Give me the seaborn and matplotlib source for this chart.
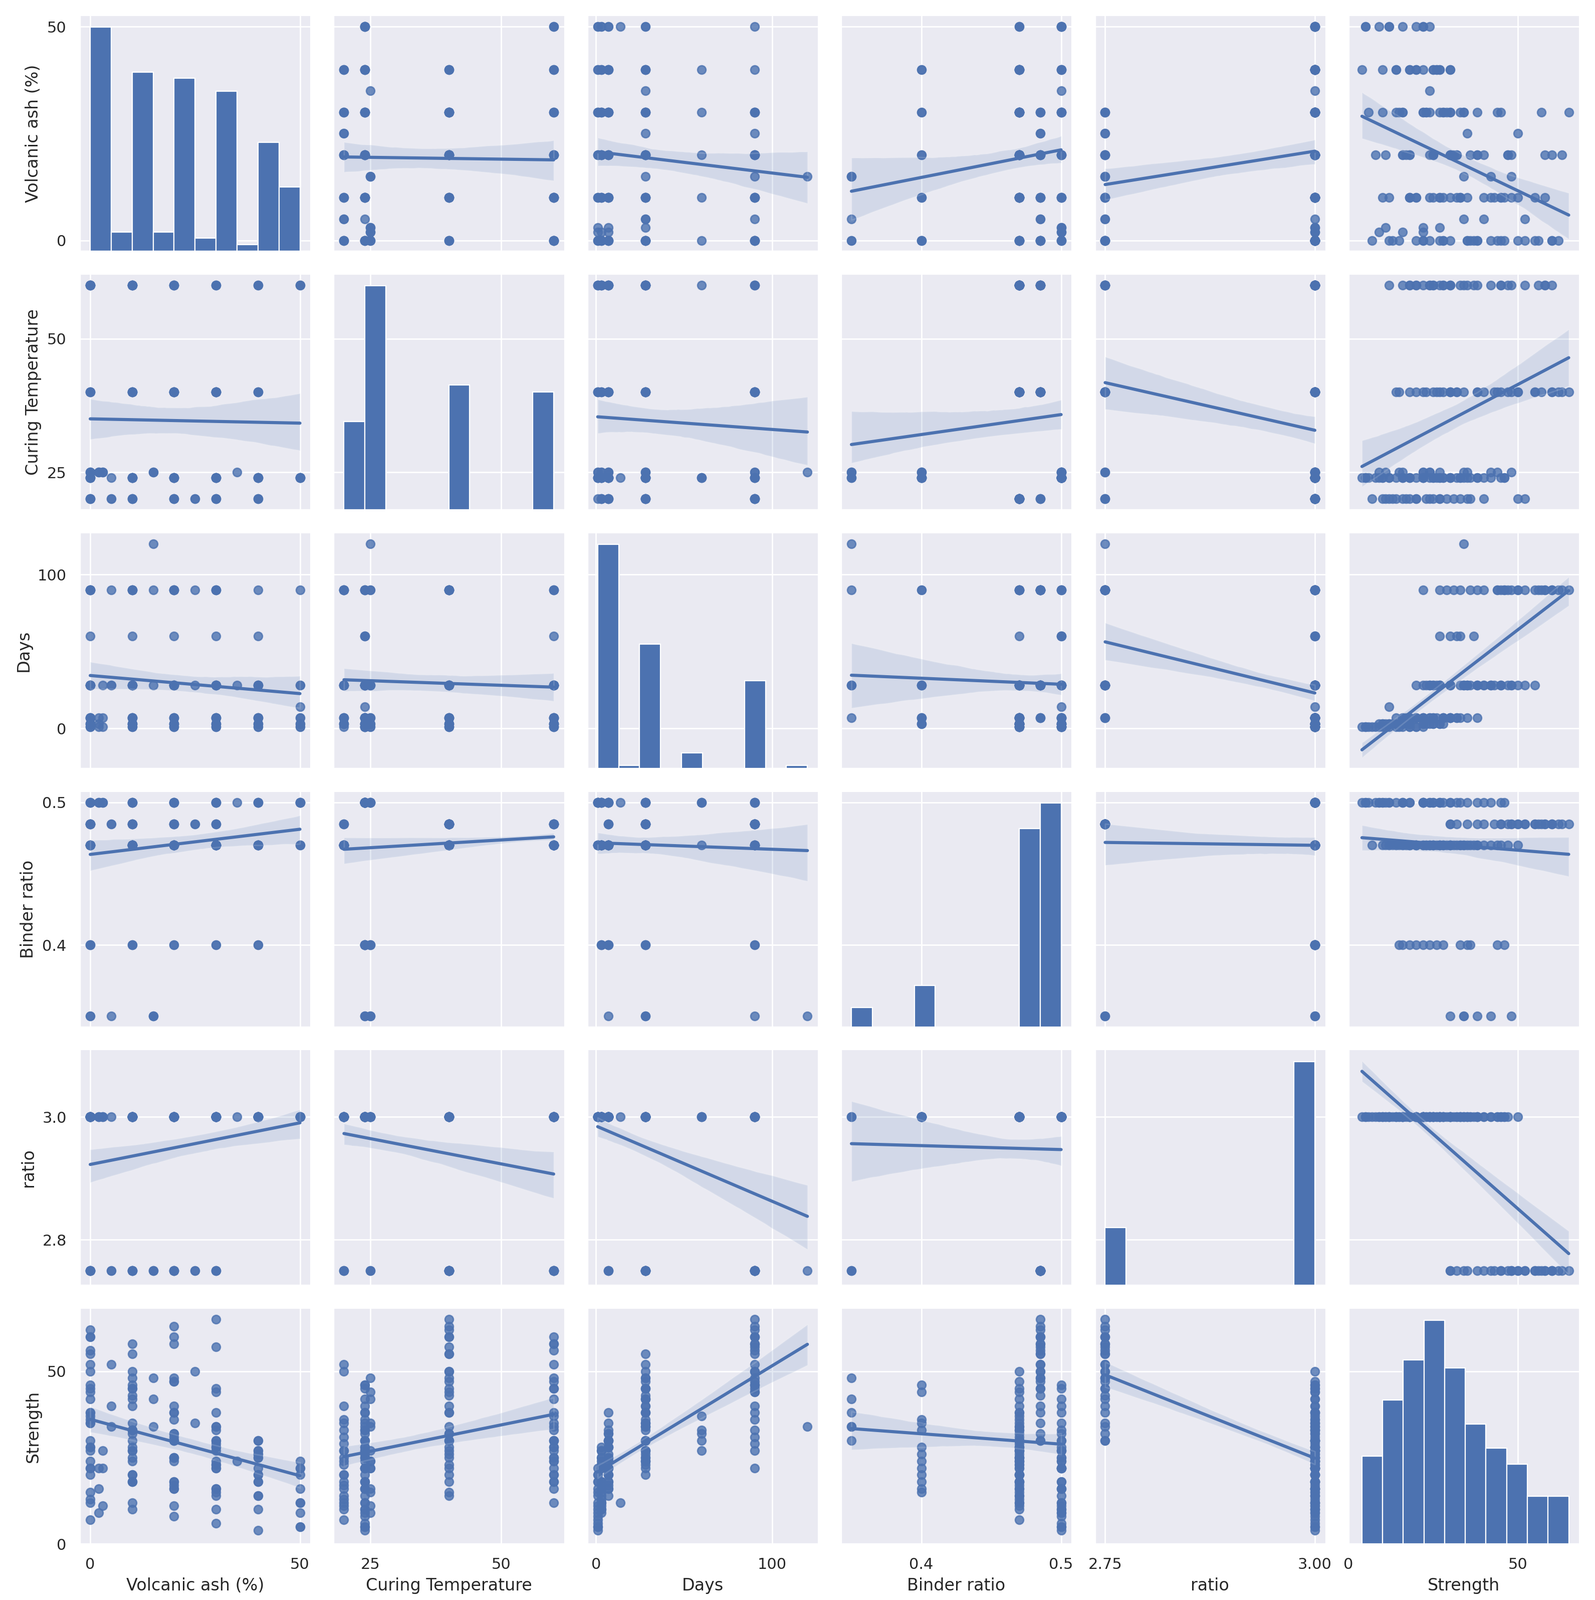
import numpy as np
import pandas as pd
import seaborn as sns
import matplotlib
matplotlib.use("Agg")
import matplotlib.pyplot as plt

# group specs: ash, temperature, binder, ratio, days list, strength list
ash_g = [0,10,20,30,5,15,25,0,10,20,
         0,10,20,30,40,50,10,20,30,40,0,10,20,30,40,50,0,10,20,30,40,2,3,0,10,20,30,40,0,5,50,35]
temp_g = [40,60,40,40,20,25,20,60,40,60,
          24,24,24,24,24,24,40,40,40,40,60,60,60,60,60,60,20,20,20,20,20,25,25,25,24,24,24,24,24,24,24,25]
binder_g = [.485,.485,.485,.485,.485,.35,.485,.485,.485,.485,
            .5,.5,.5,.5,.5,.5,.47,.47,.47,.47,.47,.47,.47,.47,.47,.47,.47,.47,.47,.47,.47,.5,.5,.4,.4,.4,.4,.4,.35,.35,.5,.5]
ratio_g = [2.75]*10 + [3.0]*32
days_g = [[7,28,90,90,28],[7,28,90,28],[7,28,90,90],[7,28,90,90],[28,90],[28,120,90],[28,90],[28,90,90],[90,28],[28,90],
          [1,3,7,28,90],[1,3,7,28,60,90],[1,3,7,28,60,90],[1,3,7,28,60,90],[1,3,7,28,60],[1,3,7,28,14],
          [1,3,7,28,90],[1,3,7,28,90],[1,3,7,28,90],[1,3,7,28],
          [1,3,7,28,60],[1,3,7,28],[1,3,7,28],[1,3,7,28],[3,7,28],[3,7,28],
          [1,3,7,28,90],[3,7,28,90],[3,7,28,90],[3,7,28,90],[7,28,90],
          [1,3,7],[1,7,28],[3,7,28,90],[3,7,90],[3,28],[7,28],[7,28],[7,28],[28],[90,1],[28]]
strength_g = [[38,50,62,60,55],[30,45,58,48],[32,48,63,60],[30,45,65,57],[40,52],[42,34,48],[35,50],[52,60,56],[55,43],[47,58],
              [12,22,28,42,46],[10,18,24,35,33,45],[8,16,25,30,32,40],[6,14,22,27,30,38],[4,10,18,25,27],[5,9,16,22,12],
              [20,27,32,40,50],[18,25,30,38,47],[15,23,28,34,44],[14,22,26,30],
              [22,28,35,45,37],[20,27,33,42],[18,25,30,38],[16,24,28,34],[18,25,30],[12,20,24],
              [7,13,20,27,36],[12,18,25,33],[11,17,24,31],[10,16,23,29],[14,20,27],
              [9,16,22],[11,22,27],[15,24,35,44],[18,28,46],[16,36],[22,33],[20,26],[30,38],[34],[22,5],[24]]

rows = []
for a, t, b, r, ds, ss in zip(ash_g, temp_g, binder_g, ratio_g, days_g, strength_g):
    for d, s in zip(ds, ss):
        rows.append((a, t, d, b, r, s))
cols = ["Volcanic ash (%)", "Curing Temperature", "Days", "Binder ratio", "ratio", "Strength"]
df = pd.DataFrame(rows, columns=cols)

xticks = {"Volcanic ash (%)": [0, 50], "Curing Temperature": [25, 50], "Days": [0, 100],
          "Binder ratio": [0.4, 0.5], "ratio": [2.75, 3.0], "Strength": [0, 50]}
xticklabels = {"ratio": ["2.75", "3.00"]}
yticks = {"Volcanic ash (%)": [0, 50], "Curing Temperature": [25, 50], "Days": [0, 100],
          "Binder ratio": [0.4, 0.5], "ratio": [2.8, 3.0], "Strength": [0, 50]}

sns.set()
g = sns.PairGrid(df, height=2.6, diag_sharey=False)
g.map_diag(sns.histplot, bins=10, alpha=1, edgecolor="white", linewidth=0.8)
g.map_offdiag(sns.regplot)
g.fig.set_size_inches(3183/200, 3192/200)
for i, yv in enumerate(cols):
    for j, xv in enumerate(cols):
        ax = g.axes[i, j]
        if i == len(cols) - 1:
            ax.set_xticks(xticks[xv])
            if xv in xticklabels:
                ax.set_xticklabels(xticklabels[xv])
        if j == 0 and i != 0:
            ax.set_yticks(yticks[yv])
g.axes[0, 0].set_yticks(yticks[cols[0]])
g.fig.subplots_adjust(left=0.05, right=0.99, bottom=0.035, top=0.99, wspace=0.1, hspace=0.1)
g.fig.savefig("out.png", dpi=200)
